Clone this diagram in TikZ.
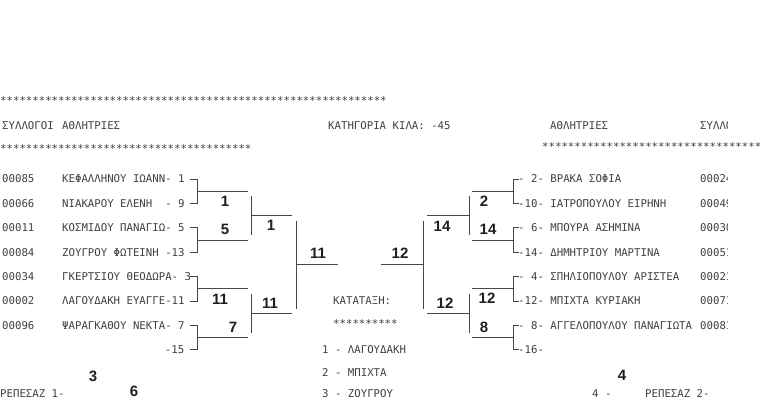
\documentclass[tikz,border=0pt]{standalone}
\usepackage{fontspec}
\newfontfamily\dotfont{DejaVu Sans Mono}
\newfontfamily\penfont{Liberation Sans}
\usetikzlibrary{positioning}
\newcommand{\starrow}[1]{\foreach \i in {1,...,#1}{*}}

\begin{document}
\begin{tikzpicture}[x=1pt, y=-1pt,
  prn/.style={font=\dotfont\fontsize{10.7}{12}\selectfont, text=black!75, inner sep=0pt, anchor=west, text height=7.6pt, text depth=0pt},
  pen/.style={font=\penfont\bfseries\fontsize{15}{16}\selectfont, text=black!88, inner sep=0pt},
  rule/.style={draw=black!72, line width=0.8pt}]
\useasboundingbox[fill=white] (0,0) rectangle (767,399);

% header
\node[prn] (stars1) at (0,101) {\starrow{60}};
\node[prn] (hclub) at (2,126) {ΣΥΛΛΟΓΟΙ};
\node[prn] (hath) at (62,126) {ΑΘΛΗΤΡΙΕΣ};
\node[prn] (hcat) at (328,126) {ΚΑΤΗΓΟΡΙΑ ΚΙΛΑ: -45};
\node[prn] (hathR) at (550,126) {ΑΘΛΗΤΡΙΕΣ};
\node[prn] (stars2) at (0,149) {\starrow{39}};
\node[prn] (stars3) at (542,147) {\starrow{34}};

% left draw
\foreach \c/\n [count=\k] in {00085/ΚΕΦΑΛΛΗΝΟΥ ΙΩΑΝΝ- 1, 00066/ΝΙΑΚΑΡΟΥ ΕΛΕΝΗ~~- 9,
    00011/ΚΟΣΜΙΔΟΥ ΠΑΝΑΓΙΩ- 5, 00084/ΖΟΥΓΡΟΥ ΦΩΤΕΙΝΗ -13, 00034/ΓΚΕΡΤΣΙΟΥ ΘΕΟΔΩΡΑ- 3,
    00002/ΛΑΓΟΥΔΑΚΗ ΕΥΑΓΓΕ-11, 00096/ΨΑΡΑΓΚΑΘΟΥ ΝΕΚΤΑ- 7} {
  \pgfmathsetmacro{\yy}{179+(\k-1)*24.4}
  \node[prn] (cL\k) at (2,\yy) {\c};
  \node[prn] (nL\k) at (62,\yy) {\n};
}
\node[prn, anchor=east] (nL8) at (184.4,349.8) {-15};

% right draw
\foreach \n [count=\k] in {- 2- ΒΡΑΚΑ ΣΟΦΙΑ, -10- ΙΑΤΡΟΠΟΥΛΟΥ ΕΙΡΗΝΗ, - 6- ΜΠΟΥΡΑ ΑΣΗΜΙΝΑ,
    -14- ΔΗΜΗΤΡΙΟΥ ΜΑΡΤΙΝΑ, - 4- ΣΠΗΛΙΟΠΟΥΛΟΥ ΑΡΙΣΤΕΑ, -12- ΜΠΙΧΤΑ ΚΥΡΙΑΚΗ,
    - 8- ΑΓΓΕΛΟΠΟΥΛΟΥ ΠΑΝΑΓΙΩΤΑ, -16-} {
  \pgfmathsetmacro{\yy}{179+(\k-1)*24.4}
  \node[prn] (nR\k) at (518,\yy) {\n};
}
\begin{scope}
\clip (690,110) rectangle (727,360);
\node[prn] (hclubR) at (700,126) {ΣΥΛΛΟΓΟΙ};
\foreach \c [count=\k] in {00024,00049,00030,00051,00021,00071,00081} {
  \pgfmathsetmacro{\yy}{179+(\k-1)*24.4}
  \node[prn] (cR\k) at (700,\yy) {\c};
}
\end{scope}

% first round brackets
\foreach \a in {1,3,5,7} {
  \pgfmathsetmacro{\ya}{179+(\a-1)*24.4}
  \pgfmathsetmacro{\yb}{\ya+24.4}
  \pgfmathsetmacro{\ym}{\ya+12.2}
  \draw[rule] (190,\ya) -- (197,\ya) -- (197,\yb) -- (190,\yb);
  \draw[rule] (197,\ym) -- (248,\ym);
  \draw[rule] (519,\ya) -- (513,\ya) -- (513,\yb) -- (519,\yb);
  \draw[rule] (513,\ym) -- (472,\ym);
}

% second round and semis
\draw[rule] (251,196) -- (251,235);
\draw[rule] (251,215.6) -- (292,215.6);
\draw[rule] (251,294) -- (251,333);
\draw[rule] (251,313.2) -- (292,313.2);
\draw[rule] (296,221) -- (296,309);
\draw[rule] (296,264.4) -- (338,264.4);
\draw[rule] (469,196) -- (469,235);
\draw[rule] (469,215.6) -- (427,215.6);
\draw[rule] (469,294) -- (469,333);
\draw[rule] (469,313.2) -- (427,313.2);
\draw[rule] (423,221) -- (423,309);
\draw[rule] (423,264.4) -- (381,264.4);

% handwritten winners
\node[pen] (wL1) at (225,201) {1};
\node[pen] (wL2) at (225,229) {5};
\node[pen] (wL3) at (271,225) {1};
\node[pen] (wL4) at (318,253) {11};
\node[pen] (wL5) at (220,299) {11};
\node[pen] (wL6) at (270,303) {11};
\node[pen] (wL7) at (233,327) {7};
\node[pen] (wR1) at (484,201) {2};
\node[pen] (wR2) at (488,229) {14};
\node[pen] (wR3) at (442,226) {14};
\node[pen] (wR4) at (400,253) {12};
\node[pen] (wR5) at (487,298) {12};
\node[pen] (wR6) at (445,303) {12};
\node[pen] (wR7) at (484,327) {8};

% standings
\node[prn] (rank) at (333,301) {ΚΑΤΑΤΑΞΗ:};
\node[prn] (stars4) at (333,323.4) {\starrow{10}};
\node[prn] (rk1) at (322,349.8) {1 - ΛΑΓΟΥΔΑΚΗ};
\node[prn] (rk2) at (322,372.5) {2 - ΜΠΙΧΤΑ};
\node[prn] (rk3) at (322,394) {3 - ΖΟΥΓΡΟΥ};

% repechage line
\node[prn] (rep1) at (0,394) {ΡΕΠΕΣΑΖ 1-};
\node[pen] (h3) at (93,376) {3};
\node[pen] (h6) at (134,391) {6};
\node[prn] (rep2a) at (592,394) {4 -};
\node[pen] (h4) at (622,375) {4};
\node[prn] (rep2) at (645,394) {ΡΕΠΕΣΑΖ 2-};
\end{tikzpicture}
\end{document}
